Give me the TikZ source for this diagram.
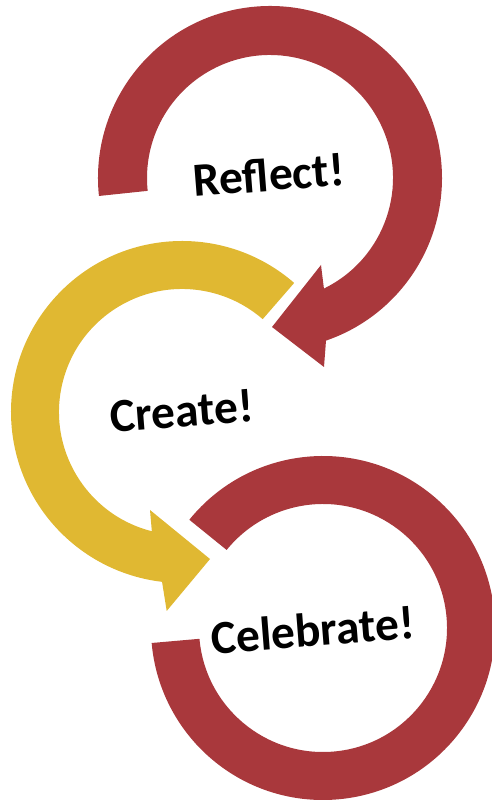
\documentclass[tikz,border=0pt]{standalone}
\usepackage{fontspec}
\setmainfont{Carlito}
\definecolor{ringred}{HTML}{A9383C}
\definecolor{ringyellow}{HTML}{E0B832}
\begin{document}
\begin{tikzpicture}[x=1pt,y=1pt,
  label/.style={font=\bfseries\fontsize{47.5}{52}\selectfont, text=black, anchor=base, rotate=4.5, inner sep=0pt}]
\useasboundingbox (0,0) rectangle (492,801);
% Reflect ring (top, red) with arrowhead
\coordinate (rc) at (270,623);
\fill[ringred] ([shift={(rc)}]186:172) arc[start angle=186,end angle=-71,radius=172]
  -- (324,434) -- (272,474) -- (321,536)
  -- ([shift={(rc)}]-64:123) arc[start angle=-64,end angle=186,radius=123] -- cycle;
% Create arc (yellow) with arrowhead
\coordinate (yc) at (182,389);
\fill[ringyellow] ([shift={(yc)}]49:171) arc[start angle=49,end angle=263.3,radius=171]
  -- (166.7,190) -- (210,242) -- (150,291)
  -- ([shift={(yc)}]255.8:123) arc[start angle=255.8,end angle=49,radius=123] -- cycle;
% Celebrate ring (bottom, red)
\coordinate (cc) at (323,173);
\fill[ringred] ([shift={(cc)}]141:172) arc[start angle=141,end angle=-175,radius=172]
  -- ([shift={(cc)}]-175:124) arc[start angle=-175,end angle=141,radius=124] -- cycle;
% labels
\node[label] (reflect) at (270,610) {Reflect!};
\node[label] (create) at (183,374) {Create!};
\node[label] (celebrate) at (314,155) {Celebrate!};
\end{tikzpicture}
\end{document}
